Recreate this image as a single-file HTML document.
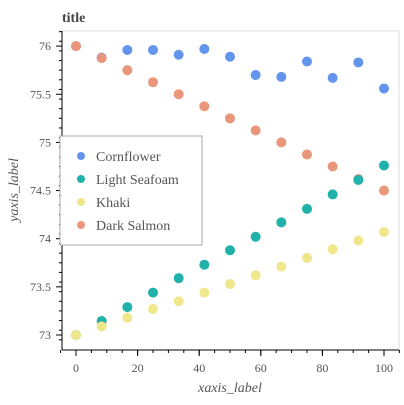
<!DOCTYPE html>
<html><head><meta charset="utf-8"><style>
body{margin:0;background:#fff;}
text{font-family:"Liberation Serif","DejaVu Serif",serif;fill:#555;}
</style></head><body>
<svg id="c" width="404" height="400">
<text x="62" y="22" font-size="14" font-weight="bold" style="fill:#444">title</text>
<rect x="62" y="31" width="337" height="319" fill="none" stroke="#ddd"/>
<g id="ax"></g><g id="pts"></g>
<text x="230" y="392" font-size="14" font-style="italic" text-anchor="middle">xaxis_label</text>
<text transform="translate(18,190) rotate(-90)" font-size="14" font-style="italic" text-anchor="middle">yaxis_label</text>
<g id="leg">
<rect x="60" y="136" width="142" height="109" fill="#fff" stroke="#aaa"/>
</g>
</svg>
<script>
const xs=[0,8.33,16.67,25,33.33,41.67,50,58.33,66.67,75,83.33,91.67,100];
const cornflower=[76.0,75.88,75.96,75.96,75.91,75.97,75.89,75.70,75.68,75.84,75.67,75.83,75.56];
const darkSalmon=[76.0,75.875,75.75,75.625,75.5,75.375,75.25,75.125,75.0,74.875,74.75,74.62,74.5];
const lightSeafoam=[73.0,73.145,73.29,73.44,73.59,73.73,73.88,74.02,74.17,74.31,74.46,74.61,74.76];
const khaki=[73.0,73.09,73.18,73.27,73.35,73.44,73.53,73.62,73.71,73.80,73.89,73.98,74.07];
const xTicks=[0,20,40,60,80,100];
const yTicks=[73,73.5,74,74.5,75,75.5,76];
const X=v=>76+v*3.08, Y=v=>335-(v-73)*96.3;
const NS="http://www.w3.org/2000/svg";
const ax=document.getElementById('ax'),pts=document.getElementById('pts'),leg=document.getElementById('leg');
function mk(tag,at,par){const e=document.createElementNS(NS,tag);for(const k in at)e.setAttribute(k,at[k]);par.appendChild(e);return e;}
let l=mk('line',{x1:62,y1:350,x2:399,y2:350,stroke:'#000'},ax);


l=mk('line',{x1:62,y1:31,x2:62,y2:350,stroke:'#000'},ax);


for(let v=-5;v<=105;v+=5){mk('line',{x1:X(v),y1:350,x2:X(v),y2:(v%20==0?355:353),stroke:'#000'},ax);}
for(let v=72.95;v<=76.15;v+=0.1){mk('line',{x1:62,y1:Y(v),x2:59,y2:Y(v),stroke:'#000'},ax);}
xTicks.forEach(v=>{mk('line',{x1:X(v),y1:350,x2:X(v),y2:356,stroke:'#000'},ax);const t=mk('text',{x:X(v),y:372,'font-size':12,'text-anchor':'middle'},ax);t.textContent=v;

});
yTicks.forEach(v=>{mk('line',{x1:62,y1:Y(v),x2:56,y2:Y(v),stroke:'#000'},ax);const t=mk('text',{x:51,y:Y(v)+4,'font-size':12,'text-anchor':'end'},ax);t.textContent=v;

});
const series=[['cornflower',cornflower,'#6495ed'],['dark-salmon',darkSalmon,'#e9967a'],['light-seafoam',lightSeafoam,'#20b2aa'],['khaki',khaki,'#f0e68c']];
series.forEach(([n,d,c])=>{d.forEach((v,i)=>{const p=mk('circle',{cx:X(xs[i]),cy:Y(v),r:5,fill:c},pts);

});});
const legItems=[['Cornflower','#6495ed'],['Light Seafoam','#20b2aa'],['Khaki','#f0e68c'],['Dark Salmon','#e9967a']];
legItems.forEach(([n,c],i)=>{const y=156+i*23;mk('circle',{cx:81,cy:y,r:4,fill:c},leg);const t=mk('text',{x:96,y:y+5,'font-size':14},leg);t.textContent=n;

});
</script>
</body></html>
